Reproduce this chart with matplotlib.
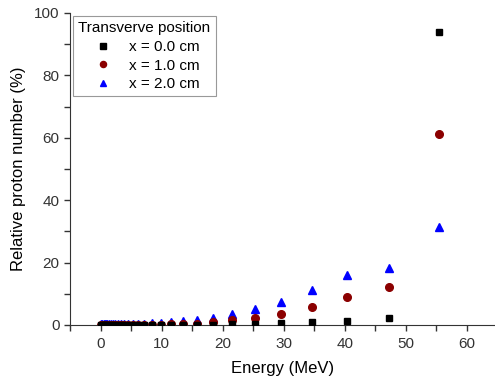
import numpy as np
import matplotlib
matplotlib.use("Agg")
import matplotlib.pyplot as plt
from matplotlib.ticker import MultipleLocator

plt.rcParams["font.family"] = ["Liberation Sans", "DejaVu Sans"]

# Energy bins (MeV) and relative proton numbers (%)
energy = [0.1, 0.3, 0.5, 0.7, 0.9, 1.1, 1.4, 1.7, 2.0, 2.4, 2.8, 3.3, 3.9, 4.5,
          5.3, 6.2, 7.2, 8.4, 9.9, 11.6, 13.5, 15.8, 18.4, 21.6, 25.3, 29.6,
          34.6, 40.4, 47.3, 55.4]

x0_cm = [0.0] * 22 + [0.1, 0.25, 0.4, 0.6, 0.85, 1.4, 2.1, 93.8]
x1_cm = [0.1] * 18 + [0.15, 0.2, 0.25, 0.4, 0.8, 1.5, 2.3, 3.6, 5.8, 9.0, 12.2, 61.2]
x2_cm = [0.2] * 14 + [0.3, 0.35, 0.45, 0.55, 0.7, 0.95, 1.2, 1.6, 2.3, 3.5, 5.0,
                      7.5, 11.3, 15.9, 18.4, 31.5]

fig = plt.figure(figsize=(4.95, 3.81), dpi=100)
ax = fig.add_axes([0.1414, 0.147, 0.857, 0.819])

ax.plot(energy, x0_cm, "s", color="black", markersize=5, label="x = 0.0 cm", zorder=3)
ax.plot(energy, x1_cm, "o", color="#8b0000", markersize=5.5, label="x = 1.0 cm", zorder=2)
ax.plot(energy, x2_cm, "^", color="#0000ff", markersize=6, label="x = 2.0 cm", zorder=1)

ax.set_xlim(-5, 64.5)
ax.set_ylim(0, 100)
ax.xaxis.set_major_locator(MultipleLocator(10))
ax.xaxis.set_minor_locator(MultipleLocator(5))
ax.yaxis.set_major_locator(MultipleLocator(20))
ax.yaxis.set_minor_locator(MultipleLocator(10))
ax.tick_params(which="both", direction="out", labelsize=11, colors="#333333")
ax.tick_params(which="major", length=4, width=1)
ax.tick_params(which="minor", length=4, width=1)
ax.tick_params(axis="x", pad=5)

ax.spines["top"].set_visible(False)
ax.spines["right"].set_visible(False)
ax.spines["left"].set_color("#333333")
ax.spines["bottom"].set_color("#333333")

ax.set_xlabel("Energy (MeV)", fontsize=12, labelpad=7)
ax.set_ylabel("Relative proton number (%)", fontsize=12, labelpad=6)

leg = ax.legend(title="Transverve position", loc="upper left", bbox_to_anchor=(0.0, 1.0),
                fontsize=11, title_fontsize=11, fancybox=False, edgecolor="#999999",
                framealpha=1, handletextpad=0.8, borderpad=0.35, labelspacing=0.3,
                handlelength=1.8, borderaxespad=0.2, markerscale=0.8)
leg.get_frame().set_linewidth(0.8)

plt.savefig("out.png", dpi=100)
